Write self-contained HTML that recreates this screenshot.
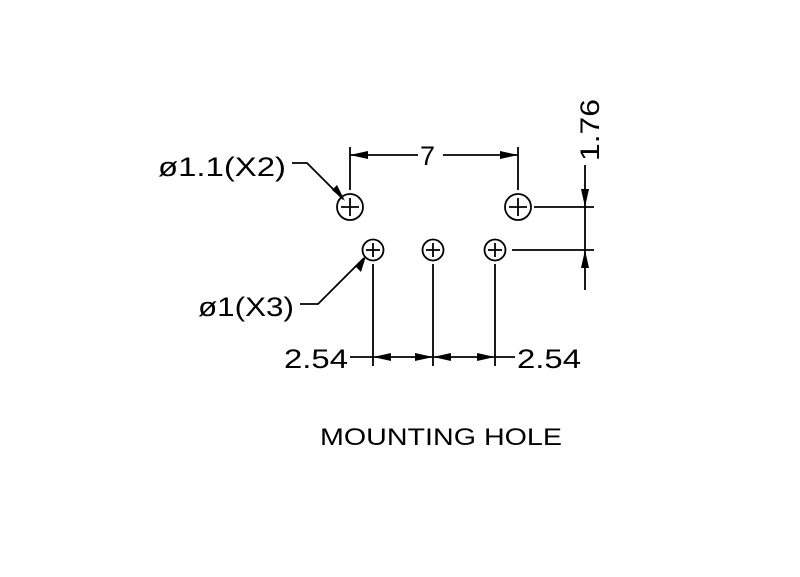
<!DOCTYPE html>
<html><head><style>body{margin:0;background:#fff}svg{display:block}</style></head><body>
<svg width="800" height="577" viewBox="0 0 800 577" xmlns="http://www.w3.org/2000/svg">
<rect width="800" height="577" fill="#fff"/>
<g stroke="#000" stroke-width="1.8" fill="none">
<circle cx="350" cy="207" r="13"/><line x1="341" y1="207" x2="359" y2="207"/><line x1="350" y1="198" x2="350" y2="216"/>
<circle cx="518" cy="207" r="13"/><line x1="509" y1="207" x2="527" y2="207"/><line x1="518" y1="198" x2="518" y2="216"/>
<circle cx="373" cy="250" r="10.5"/><line x1="366" y1="250" x2="380" y2="250"/><line x1="373" y1="243" x2="373" y2="257"/>
<circle cx="433" cy="250" r="10.5"/><line x1="426" y1="250" x2="440" y2="250"/><line x1="433" y1="243" x2="433" y2="257"/>
<circle cx="495" cy="250" r="10.5"/><line x1="488" y1="250" x2="502" y2="250"/><line x1="495" y1="243" x2="495" y2="257"/>
<!-- 7 dim -->
<line x1="350" y1="147" x2="350" y2="190"/><line x1="518" y1="147" x2="518" y2="190"/>
<line x1="350" y1="155" x2="418" y2="155"/><line x1="443" y1="155" x2="518" y2="155"/>
<!-- 1.76 dim -->
<line x1="534" y1="207" x2="594" y2="207"/><line x1="512" y1="250" x2="594" y2="250"/>
<line x1="585" y1="165" x2="585" y2="290"/>
<!-- bottom -->
<line x1="373" y1="264" x2="373" y2="366"/><line x1="433" y1="264" x2="433" y2="366"/><line x1="495" y1="264" x2="495" y2="366"/>
<line x1="350" y1="357" x2="515" y2="357"/>
<!-- leaders -->
<polyline points="292,163 307,163 343,199"/>
<polyline points="300,304 318,304 364,258"/>
</g>
<g fill="#000">
<polygon points="350,155 368,151 368,159"/><polygon points="518,155 500,151 500,159"/>
<polygon points="585,207 581,189 589,189"/><polygon points="585,250 581,268 589,268"/>
<polygon points="373,357 391,353 391,361"/><polygon points="433,357 415,353 415,361"/>
<polygon points="433,357 451,353 451,361"/><polygon points="495,357 477,353 477,361"/>
<polygon points="345,201 332,190 337,185"/><polygon points="366,256 361,272 355,266"/>
</g>
<g font-family="Liberation Sans, sans-serif" fill="#000" font-size="27">
<text x="420" y="165">7</text>
<text x="158" y="176" textLength="128" lengthAdjust="spacingAndGlyphs">ø1.1(X2)</text>
<text x="198" y="316" textLength="96" lengthAdjust="spacingAndGlyphs">ø1(X3)</text>
<text x="284" y="368" textLength="64" lengthAdjust="spacingAndGlyphs">2.54</text>
<text x="517" y="368" textLength="64" lengthAdjust="spacingAndGlyphs">2.54</text>
<text transform="translate(599,161) rotate(-90)" textLength="62" lengthAdjust="spacingAndGlyphs">1.76</text>
<text x="320" y="445" font-size="24" textLength="242" lengthAdjust="spacingAndGlyphs">MOUNTING HOLE</text>
</g>
</svg>
</body></html>
